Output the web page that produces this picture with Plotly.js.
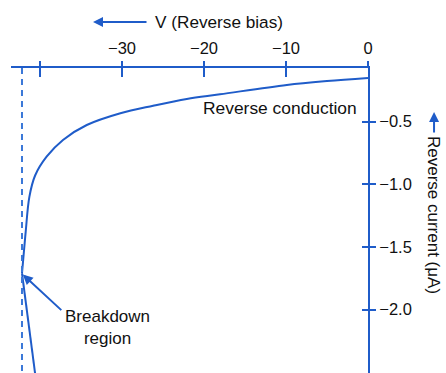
<!DOCTYPE html>
<html>
<head>
<meta charset="utf-8">
<script src="https://cdn.plot.ly/plotly-3.0.1.min.js"></script>
<style>
  html, body { margin: 0; padding: 0; background: #ffffff; }
  #chart { width: 446px; height: 373px; }
</style>
</head>
<body>
<div id="chart"></div>
<script>
// Reverse-bias characteristic of a diode: voltage (V) vs reverse current (µA)
const voltage = [0, -5, -9.9, -18.05, -22.1, -26.2, -30.2, -34.3, -37.2, -39.2, -40.6, -41.3, -41.75, -42.05, -42.2];
const current = [-0.152, -0.176, -0.207, -0.282, -0.319, -0.373, -0.433, -0.527, -0.646, -0.78, -0.93, -1.10, -1.38, -1.60, -1.71];

// straight breakdown segment below the knee
const breakdownV = [-42.2, -40.6];
const breakdownI = [-1.71, -2.51];

const breakdownVoltage = -42.2;
const breakdownLine = [-0.072, -2.506];

const xTickVals = [-40, -30, -20, -10, 0];
const xTickText = ['', '\u221230', '\u221220', '\u221210', '0'];
const yTickVals = [-0.5, -1.0, -1.5, -2.0];
const yTickText = ['\u22120.5', '\u22121.0', '\u22121.5', '\u22122.0'];

const blue = '#1f5cc9';
const ink = '#111111';
const font = 'Liberation Sans, Arial, Helvetica, sans-serif';
const xRange = [-43.54, 0];
const yRange = [-2.506, -0.072];

const traces = [
  {
    x: voltage, y: current, type: 'scatter', mode: 'lines',
    line: { color: blue, width: 2, shape: 'spline', smoothing: 1.0 },
    hoverinfo: 'skip', showlegend: false
  },
  {
    x: breakdownV, y: breakdownI, type: 'scatter', mode: 'lines',
    line: { color: blue, width: 2 },
    hoverinfo: 'skip', showlegend: false
  },
  {
    x: [breakdownVoltage, breakdownVoltage], y: breakdownLine,
    xaxis: 'x2', yaxis: 'y2',
    type: 'scatter', mode: 'lines',
    line: { color: '#3b78d8', width: 2, dash: '6px,5px' },
    hoverinfo: 'skip', showlegend: false
  }
];

const axisCommon = {
  showgrid: false, zeroline: false, showline: true,
  linecolor: blue, linewidth: 2, tickcolor: blue, tickwidth: 2
};

const layout = {
  width: 446, height: 373,
  margin: { l: 11, r: 78, t: 68, b: 0 },
  paper_bgcolor: '#ffffff', plot_bgcolor: '#ffffff',
  font: { family: font, size: 16, color: ink },
  xaxis: Object.assign({}, axisCommon, {
    side: 'top', range: xRange, fixedrange: true,
    tickmode: 'array', tickvals: xTickVals, ticktext: xTickText,
    ticks: 'outside', ticklen: 5,
    tickfont: { family: font, size: 16.5, color: ink }
  }),
  xaxis2: Object.assign({}, axisCommon, {
    side: 'top', overlaying: 'x', range: xRange, fixedrange: true,
    tickmode: 'array', tickvals: xTickVals, showticklabels: false,
    ticks: 'inside', ticklen: 9
  }),
  yaxis: Object.assign({}, axisCommon, {
    side: 'right', range: yRange, fixedrange: true,
    tickmode: 'array', tickvals: yTickVals, ticktext: yTickText,
    ticks: 'outside', ticklen: 6,
    tickfont: { family: font, size: 16.5, color: ink }
  }),
  yaxis2: Object.assign({}, axisCommon, {
    side: 'right', overlaying: 'y', range: yRange, fixedrange: true,
    tickmode: 'array', tickvals: yTickVals, showticklabels: false,
    ticks: 'inside', ticklen: 6
  }),
  annotations: [
    // horizontal axis caption with left-pointing arrow
    { xref: 'paper', yref: 'paper', x: 0.398, y: 1.151, xanchor: 'left', yanchor: 'middle',
      text: 'V (Reverse bias)', showarrow: false, font: { family: font, size: 17.2, color: ink } },
    { xref: 'paper', yref: 'paper', x: 0.2297, y: 1.151, text: '', showarrow: true,
      ax: 55, ay: 0, arrowhead: 2, arrowsize: 1, arrowwidth: 2, arrowcolor: blue },
    // vertical axis caption with upward arrow
    { xref: 'paper', yref: 'paper', x: 1.185, y: 0.518, xanchor: 'center', yanchor: 'middle',
      text: 'Reverse current (\u03bcA)', textangle: 90, showarrow: false,
      font: { family: font, size: 17, color: ink } },
    { xref: 'paper', yref: 'paper', x: 1.185, y: 0.856, text: '', showarrow: true,
      ax: 0, ay: 22, arrowhead: 2, arrowsize: 1, arrowwidth: 2, arrowcolor: blue },
    // region labels
    { xref: 'x', yref: 'y', x: -10.7, y: -0.391, xanchor: 'center', yanchor: 'middle',
      text: 'Reverse conduction', showarrow: false, font: { family: font, size: 17.4, color: ink } },
    { xref: 'x', yref: 'y', x: -31.8, y: -2.14, xanchor: 'center', yanchor: 'middle',
      text: 'Breakdown<br>region', showarrow: false, font: { family: font, size: 17, color: ink } },
    { xref: 'x', yref: 'y', x: -42.1, y: -1.72, text: '', showarrow: true,
      ax: 40, ay: 37, arrowhead: 2, arrowsize: 1, arrowwidth: 2, arrowcolor: blue }
  ]
};

Plotly.newPlot('chart', traces, layout, { staticPlot: true, displayModeBar: false });
</script>
</body>
</html>
